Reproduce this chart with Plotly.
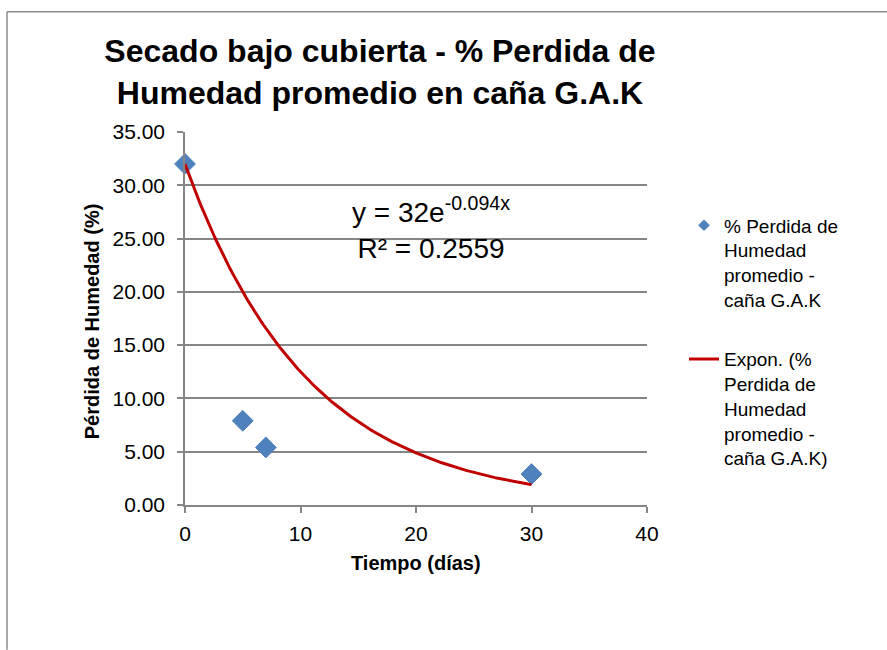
import numpy as np
import plotly.graph_objects as go

# ---- data ----
tiempo_dias = [0, 5, 7, 30]
perdida_humedad = [32.0, 7.9, 5.4, 2.9]
trend_a = 32.0      # y = a * e^(b x) as printed on chart
trend_b = -0.094
trend_r2 = 0.2559
x_ticks = [0, 10, 20, 30, 40]
y_ticks = [0, 5, 10, 15, 20, 25, 30, 35]

title_text = "Secado bajo cubierta - % Perdida de<br>Humedad promedio en caña G.A.K"
series_name = "% Perdida de<br>Humedad<br>promedio -<br>caña G.A.K"
trend_name = "Expon. (%<br>Perdida de<br>Humedad<br>promedio -<br>caña G.A.K)"

W, H = 887, 650
L, R, T, B = 185, 240, 131.5, 145
pw, ph = W - L - R, H - T - B


def px(xp):
    return (xp - L) / pw


def py(yp):
    return (H - B - yp) / ph


FONT = "Arial, 'Liberation Sans', sans-serif"
GRID = "#868686"

trend_x = np.linspace(min(tiempo_dias), max(tiempo_dias), 200)
trend_y = trend_a * np.exp(trend_b * trend_x)

fig = go.Figure()
fig.add_trace(go.Scatter(
    x=tiempo_dias, y=perdida_humedad, mode="markers", showlegend=False,
    marker=dict(symbol="diamond", size=16, color="#4F81BD",
                line=dict(color="#4A7EBB", width=1)),
    cliponaxis=False, legendgroup="a"))
fig.add_trace(go.Scatter(
    x=[None], y=[None], mode="markers", name=series_name, legendgroup="a",
    marker=dict(symbol="diamond", size=9, color="#4F81BD")))
fig.add_trace(go.Scatter(
    x=trend_x, y=trend_y, mode="lines", name=trend_name, legendgroup="b",
    line=dict(color="#C00000", width=3), cliponaxis=False))

fig.update_layout(
    width=W, height=H,
    margin=dict(l=L, r=R, t=T, b=B, autoexpand=False),
    paper_bgcolor="white", plot_bgcolor="white",
    font=dict(family=FONT, color="black", size=20),
    title=dict(text=title_text, x=380 / W, xanchor="center", xref="container",
               y=1 - 62 / H, yanchor="middle", yref="container",
               font=dict(size=32, family=FONT, weight="bold", color="black")),
    xaxis=dict(range=[0, 40], tickvals=x_ticks, showgrid=False, zeroline=False,
               showline=True, linecolor=GRID, linewidth=1.5, ticks="outside",
               ticklen=6, tickcolor=GRID, tickwidth=1.5, ticklabelstandoff=3,
               tickfont=dict(size=21)),
    yaxis=dict(range=[0, 35], tickvals=y_ticks, tickformat=".2f", showgrid=True,
               gridcolor=GRID, gridwidth=1.5, zeroline=False, showline=True,
               linecolor=GRID, linewidth=1.5, ticks="outside", ticklen=6,
               tickcolor=GRID, tickwidth=1.5, ticklabelstandoff=8,
               tickfont=dict(size=21)),
    legend=dict(x=px(684), y=py(206), xanchor="left", yanchor="top",
                valign="top", traceorder="grouped", tracegroupgap=32,
                font=dict(size=19, family=FONT), bgcolor="rgba(0,0,0,0)"),
    showlegend=True,
)

# axis titles
fig.add_annotation(text="<b>Tiempo (días)</b>", xref="paper", yref="paper",
                   x=px(416), y=py(563), xanchor="center", yanchor="middle",
                   showarrow=False, font=dict(size=20, family=FONT))
fig.add_annotation(text="<b>Pérdida de Humedad (%)</b>", xref="paper", yref="paper",
                   x=px(92), y=py(321), xanchor="center", yanchor="middle",
                   showarrow=False, textangle=-90,
                   font=dict(size=20, family=FONT))

# trendline equation label
fig.add_annotation(
    text=f"y = {trend_a:g}e<sup>{trend_b:g}x</sup><br>R² = {trend_r2:g}",
    xref="paper", yref="paper", x=px(431), y=py(228),
    xanchor="center", yanchor="middle", showarrow=False,
    font=dict(size=28, family=FONT), align="center")

# chart-area border (top and left visible)
fig.add_shape(type="line", xref="paper", yref="paper",
              x0=px(7), x1=px(887), y0=py(11), y1=py(11),
              line=dict(color="#8C8C8C", width=1.5))
fig.add_shape(type="line", xref="paper", yref="paper",
              x0=px(7), x1=px(7), y0=py(11), y1=py(650),
              line=dict(color="#8C8C8C", width=1.5))

fig.write_html("out.html", config={"displayModeBar": False},
               post_script="document.body.style.margin='0';")
